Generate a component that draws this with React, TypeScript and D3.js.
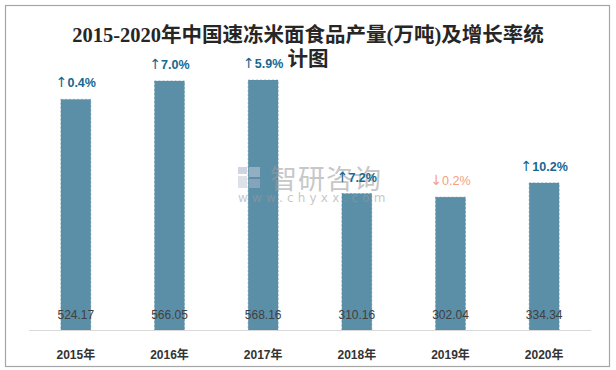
import React from "react";
import * as d3 from "d3";

const years = ["2015年", "2016年", "2017年", "2018年", "2019年", "2020年"];
const output = [524.17, 566.05, 568.16, 310.16, 302.04, 334.34];
const growth = [0.4, 7.0, 5.9, 7.2, -0.2, 10.2];

const W = 616;
const H = 370;

const App = () => {
  const x = d3.scaleBand().domain(years).range([29, 591]).paddingInner(0.68).paddingOuter(0.34);
  const y = d3.scaleLinear().domain([0, 700]).range([330, 22]);
  const bw = x.bandwidth();

  return (
    <svg width={W} height={H} style={{ position: "absolute", left: 0, top: 0 }}>
      <rect x={0} y={0} width={W} height={H} fill="#fff" />
      {/* outer frame */}
      <rect x={5.5} y={5.5} width={604} height={361} fill="none" stroke="#a6a6a6" strokeWidth={1.2} />

      {/* title */}
      <text
        x={308}
        textAnchor="middle"
        fontFamily="'Liberation Serif', 'Noto Sans CJK SC', serif"
        fontSize={20.5}
        fontWeight={600}
        fill="#262626"
      >
        <tspan x={308} y={42}>2015-2020年中国速冻米面食品产量(万吨)及增长率统</tspan>
        <tspan x={308} y={66}>计图</tspan>
      </text>

      {/* bars */}
      {output.map((v, i) => (
        <rect
          key={years[i]}
          x={x(years[i])}
          y={y(v)}
          width={bw}
          height={y(0) - y(v)}
          fill="#5b8fa8"
          stroke="#54889f"
          strokeWidth={0.5}
          strokeDasharray="2 2"
        />
      ))}

      {/* axis line */}
      <line x1={29} x2={591} y1={330.5} y2={330.5} stroke="#d9d9d9" strokeWidth={1} />

      {/* watermark */}
      <g opacity={0.55}>
        <rect x={238} y={167} width={9} height={7} fill="#a9b6cc" />
        <rect x={249} y={167} width={11} height={10} fill="#c2c9d6" />
        <rect x={238} y={176} width={9} height={12} fill="#c2c9d6" />
        <rect x={249} y={179} width={11} height={9} fill="#a9b6cc" />
        <text x={270} y={189} fontFamily="'Noto Sans CJK SC', sans-serif" fontSize={27} fill="#9a9a9a" letterSpacing={1}>
          智研咨询
        </text>
        <text x={238} y={202} fontFamily="'DejaVu Sans', sans-serif" fontSize={12} fill="#9a9a9a" letterSpacing={4.2}>
          www.chyxx.com
        </text>
      </g>

      {/* growth labels */}
      {growth.map((g, i) => (
        <text
          key={"g" + i}
          x={(x(years[i]) as number) + bw / 2}
          y={y(output[i]) - 12}
          textAnchor="middle"
          fontFamily="'Liberation Sans', 'DejaVu Sans', sans-serif"
          fontSize={12.5}
          fontWeight={g >= 0 ? "bold" : "normal"}
          fill={g >= 0 ? "#17678f" : "#f2a083"}
        >
          <tspan fontFamily="'DejaVu Sans', sans-serif" fontWeight="normal" fontSize={14}>
            {g >= 0 ? "↑" : "↓"}
          </tspan>
          {Math.abs(g).toFixed(1) + "%"}
        </text>
      ))}

      {/* value labels */}
      {output.map((v, i) => (
        <text
          key={"v" + i}
          x={(x(years[i]) as number) + bw / 2}
          y={319}
          textAnchor="middle"
          fontFamily="'Liberation Sans', sans-serif"
          fontSize={12}
          fill="#404040"
        >
          {v.toFixed(2)}
        </text>
      ))}

      {/* category labels */}
      {years.map((c) => (
        <text
          key={c}
          x={(x(c) as number) + bw / 2}
          y={359}
          textAnchor="middle"
          fontFamily="'Liberation Sans', 'Noto Sans CJK SC', sans-serif"
          fontSize={12}
          fontWeight="bold"
          fill="#333"
        >
          {c}
        </text>
      ))}
    </svg>
  );
};

export default App;
